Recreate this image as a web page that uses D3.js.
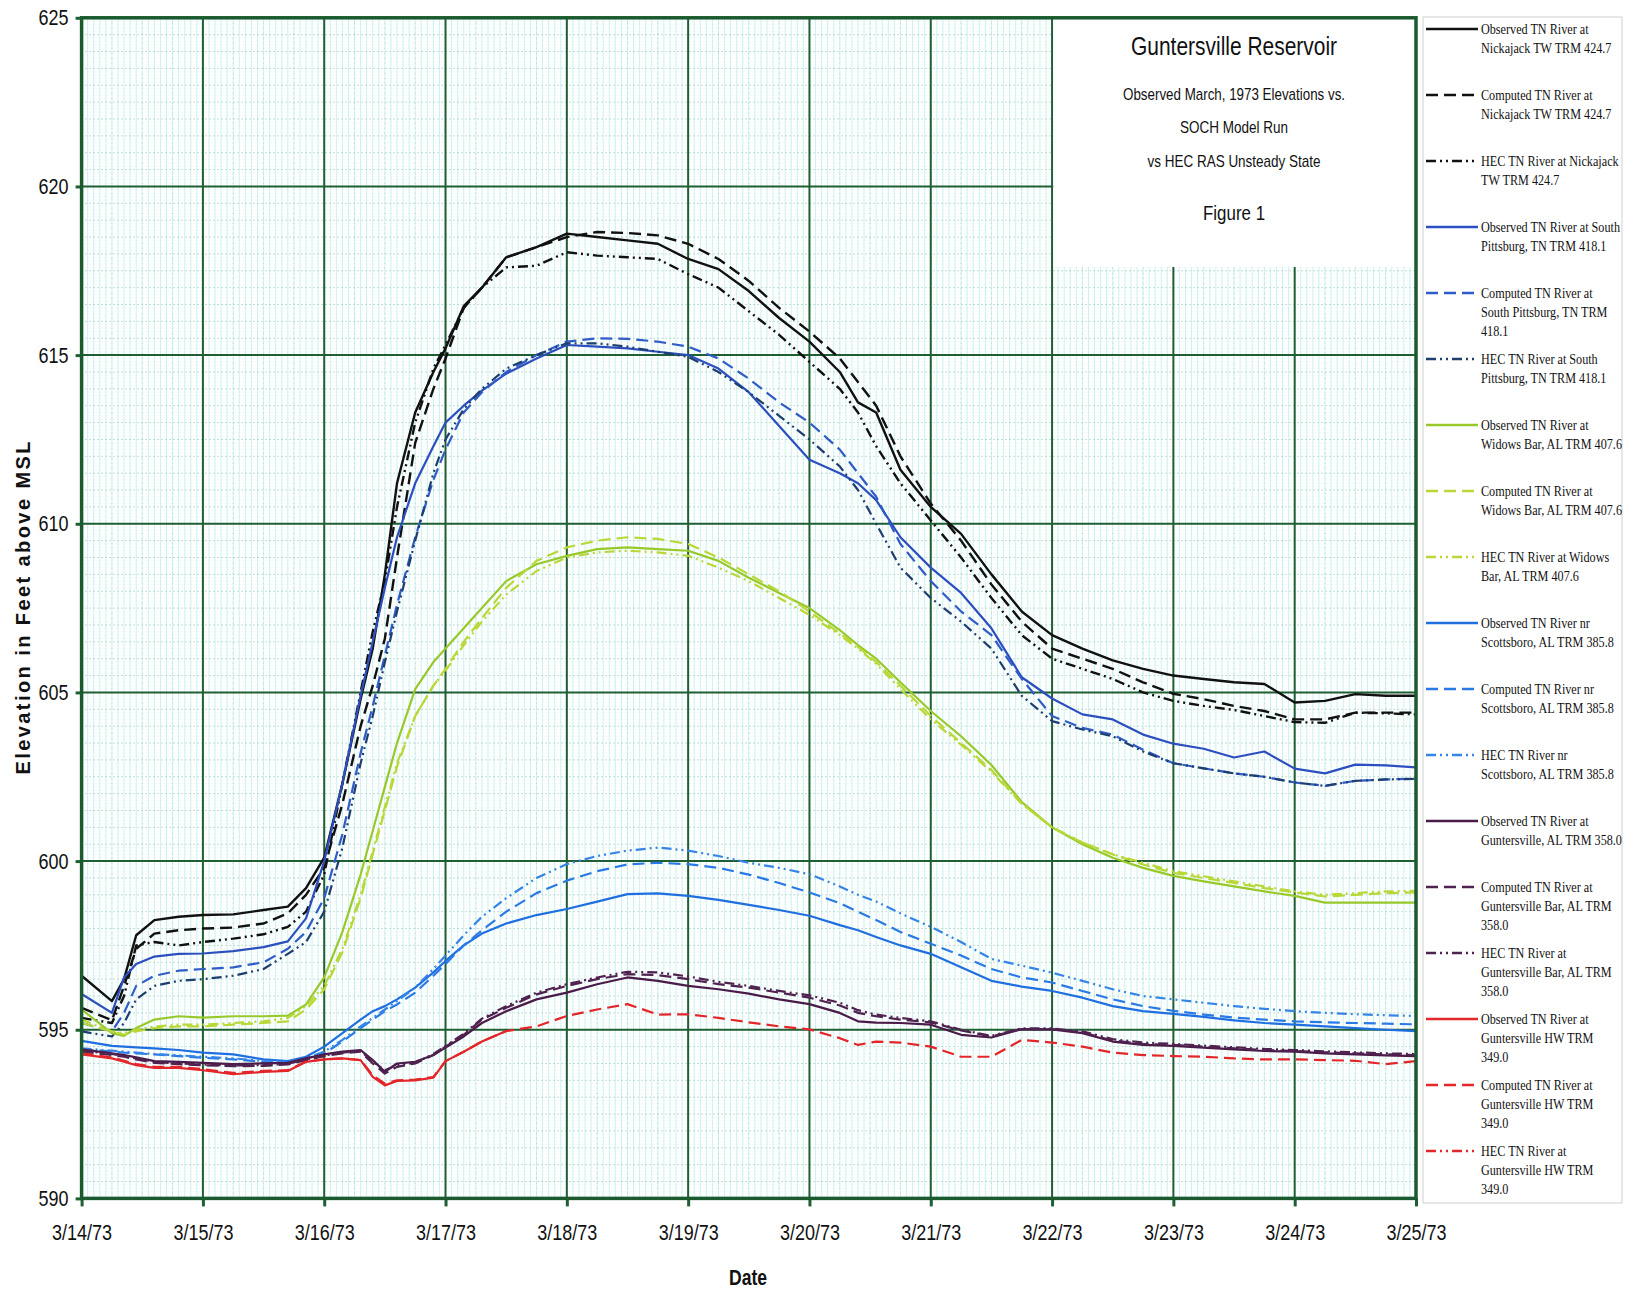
<!DOCTYPE html>
<html>
<head>
<meta charset="utf-8">
<script src="https://cdn.jsdelivr.net/npm/d3@7"></script>
<style>
  body { margin: 0; background: #fff; }
  svg text { font-family: "Liberation Sans Narrow", "Arial Narrow", "Liberation Sans", Arial, sans-serif; fill: #111; }
  .leg text { font-family: "Liberation Serif", "Times New Roman", serif; font-size: 14.5px; }
</style>
</head>
<body>
<svg id="svg" width="1641" height="1290"></svg>
<script>
// time in days after 3/14/73 00:00
const days = [0,0.25,0.35,0.45,0.6,0.8,1,1.25,1.5,1.7,1.85,2,2.15,2.3,2.4,2.5,2.6,2.75,2.9,3,3.15,3.3,3.5,3.75,4,4.25,4.5,4.75,5,5.25,5.5,5.75,6,6.25,6.4,6.55,6.75,7,7.25,7.5,7.75,8,8.25,8.5,8.75,9,9.25,9.5,9.75,10,10.25,10.5,10.75,11];

const dateLabels = ["3/14/73","3/15/73","3/16/73","3/17/73","3/18/73","3/19/73","3/20/73","3/21/73","3/22/73","3/23/73","3/24/73","3/25/73"];
const elevTicks = [590,595,600,605,610,615,620,625];

const obsNickajack = [596.6,595.85,596.5,597.8,598.25,598.35, 598.4,598.42,598.55,598.65,599.2, 600.1,602.3,604.8,606.3,608.5,611.2,613.3,614.5, 615.2,616.45,617.0,617.9,618.2, 618.6,618.5,618.4,618.3, 617.85,617.55,616.9,616.1, 615.4,614.5,613.6,613.3,611.6, 610.5,609.7,608.5,607.4, 606.7,606.3,605.95,605.7, 605.5,605.4,605.3,605.25, 604.7,604.75,604.95,604.9, 604.9];
const compNickajack = [595.65,595.28,596.3,597.4,597.85,597.95, 598.0,598.03,598.15,598.45,599.0, 599.8,601.7,604.0,605.2,606.6,609.0,612.4,614.0, 614.9,616.4,617.0,617.9,618.2, 618.5,618.65,618.62,618.55, 618.3,617.85,617.2,616.4, 615.7,614.9,614.2,613.5,612.0, 610.6,609.5,608.2,607.1, 606.3,606.0,605.7,605.3, 604.96,604.8,604.6,604.45, 604.2,604.2,604.4,604.4, 604.4];
const hecNickajack = [595.35,595.2,596.0,597.5,597.6,597.5, 597.6,597.7,597.83,598.05,598.5, 599.6,602.3,605.0,606.8,608.3,610.5,613.0,614.6, 615.3,616.4,617.0,617.6,617.65, 618.05,617.95,617.9,617.85, 617.4,617.0,616.3,615.6, 614.8,614.0,613.3,612.3,611.2, 610.1,609.0,607.8,606.7, 606.0,605.7,605.4,605.0, 604.75,604.6,604.48,604.3, 604.12,604.1,604.4,604.38, 604.35];

const obsSPitt = [596.06,595.5,596.55,596.95,597.17,597.25, 597.26,597.33,597.45,597.62,598.3, 600.0,602.3,604.9,606.5,608.1,609.6,611.2,612.3, 613.0,613.5,613.95,614.45,614.9, 615.3,615.25,615.2,615.1, 615.0,614.6,613.9,612.9, 611.9,611.5,611.2,610.7,609.6, 608.7,607.95,606.9,605.45, 604.82,604.35,604.2,603.75, 603.48,603.33,603.07,603.25, 602.74,602.6,602.86,602.84, 602.78];
const compSPitt = [595.2,594.95,595.5,596.3,596.6,596.75, 596.8,596.85,597.0,597.4,597.9, 598.9,600.8,603.2,604.6,606.1,607.6,609.6,611.3, 612.2,613.3,613.9,614.5,615.0, 615.4,615.5,615.48,615.4, 615.25,614.9,614.3,613.6, 613.0,612.2,611.5,610.8,609.4, 608.3,607.4,606.7,605.4, 604.3,603.95,603.75,603.3, 602.9,602.75,602.6,602.5, 602.33,602.23,602.38,602.42, 602.44];
const hecSPitt = [594.95,594.8,595.2,595.9,596.3,596.45, 596.5,596.6,596.8,597.25,597.6, 598.5,600.4,602.9,604.3,605.9,607.4,609.5,611.5, 612.5,613.4,614.0,614.6,615.0, 615.35,615.35,615.25,615.1, 614.95,614.5,613.9,613.2, 612.5,611.7,611.0,610.0,608.7, 607.8,607.1,606.3,604.9, 604.15,603.9,603.7,603.25, 602.9,602.75,602.6,602.5, 602.33,602.23,602.38,602.42, 602.44];

const obsWidows = [595.6,594.9,594.82,595.05,595.3,595.4, 595.36,595.4,595.4,595.42,595.75, 596.55,597.9,599.6,600.9,602.2,603.5,605.1,605.9, 606.3,606.9,607.5,608.3,608.8, 609.05,609.25,609.3,609.25, 609.2,608.9,608.4,607.95, 607.5,606.85,606.4,606.0,605.3, 604.45,603.7,602.85,601.75, 601.0,600.5,600.1,599.8, 599.56,599.4,599.25,599.1, 598.97,598.77,598.77,598.77, 598.77];
const compWidows = [595.2,594.95,594.85,594.95,595.05,595.1, 595.1,595.15,595.2,595.25,595.6, 596.2,597.3,598.9,600.2,601.5,602.8,604.3,605.2, 605.7,606.5,607.2,608.1,608.9, 609.3,609.5,609.6,609.55, 609.4,609.0,608.5,608.0, 607.4,606.75,606.35,605.9,605.2, 604.3,603.5,602.7,601.7, 601.0,600.55,600.2,599.9, 599.65,599.5,599.35,599.2, 599.07,598.95,599.0,599.05, 599.07];
const hecWidows = [595.3,594.95,594.9,595.0,595.1,595.15, 595.15,595.2,595.25,595.35,595.7, 596.3,597.4,599.0,600.3,601.6,602.9,604.3,605.2, 605.65,606.4,607.1,607.9,608.6, 609.0,609.15,609.2,609.15, 609.05,608.7,608.3,607.8, 607.3,606.7,606.3,605.85,605.1, 604.2,603.45,602.65,601.7, 601.0,600.55,600.2,599.95, 599.7,599.55,599.4,599.25, 599.1,599.0,599.05,599.1, 599.12];

const obsScotts = [594.67,594.52,594.5,594.48,594.45,594.4, 594.32,594.27,594.12,594.07,594.2, 594.5,594.9,595.3,595.55,595.7,595.9,596.25,596.7, 597.04,597.5,597.85,598.15,598.4, 598.58,598.8,599.02,599.04, 598.97,598.85,598.7,598.55, 598.38,598.1,597.95,597.75,597.5, 597.25,596.85,596.45,596.28, 596.15,595.95,595.7,595.55, 595.47,595.38,595.28,595.2, 595.15,595.1,595.05,595.0, 594.96];
const compScotts = [594.42,594.35,594.32,594.3,594.27,594.22, 594.17,594.12,594.05,594.02,594.12, 594.3,594.65,595.05,595.3,595.55,595.75,596.1,596.6, 596.95,597.5,597.95,598.5,599.05, 599.42,599.7,599.9,599.95, 599.91,599.8,599.6,599.35, 599.07,598.75,598.5,598.25,597.9, 597.55,597.2,596.8,596.55, 596.4,596.15,595.9,595.7, 595.56,595.45,595.36,595.3, 595.25,595.22,595.2,595.18, 595.16];
const hecScotts = [594.45,594.38,594.35,594.32,594.28,594.24, 594.2,594.15,594.08,594.05,594.15, 594.35,594.7,595.1,595.35,595.6,595.85,596.25,596.8, 597.2,597.8,598.35,598.9,599.5, 599.91,600.15,600.31,600.4, 600.31,600.15,599.95,599.8, 599.61,599.25,599.0,598.8,598.45, 598.05,597.6,597.1,596.9, 596.69,596.45,596.2,596.0, 595.9,595.8,595.7,595.62, 595.55,595.5,595.46,595.43, 595.41];

const obsGunt = [594.42,594.3,594.25,594.18,594.07,594.05, 594.02,593.98,594.0,594.02,594.15, 594.27,594.35,594.4,594.1,593.75,594.0,594.05,594.25, 594.47,594.8,595.2,595.55,595.9, 596.1,596.35,596.55,596.45, 596.3,596.2,596.07,595.9, 595.76,595.5,595.25,595.21,595.2, 595.15,594.85,594.77,595.02, 595.01,594.9,594.65,594.55, 594.52,594.47,594.42,594.37, 594.35,594.3,594.27,594.24, 594.22];
const compGunt = [594.35,594.25,594.2,594.12,594.02,593.98, 593.95,593.92,593.93,593.97,594.1, 594.22,594.3,594.35,594.0,593.7,593.9,594.0,594.25, 594.5,594.85,595.3,595.65,596.05, 596.3,596.5,596.65,596.62, 596.5,596.35,596.25,596.1, 595.95,595.72,595.5,595.4,595.3, 595.22,594.98,594.8,595.02, 595.02,594.92,594.68,594.58, 594.55,594.5,594.45,594.4, 594.37,594.33,594.3,594.27, 594.25];
const hecGunt = [594.38,594.28,594.22,594.15,594.05,594.0, 593.97,593.94,593.95,593.99,594.12, 594.24,594.32,594.38,594.05,593.8,593.95,594.02,594.28, 594.52,594.88,595.33,595.7,596.1, 596.35,596.55,596.72,596.7, 596.58,596.42,596.3,596.15, 596.02,595.8,595.58,595.45,595.35, 595.25,595.0,594.82,595.04, 595.04,594.95,594.72,594.62, 594.58,594.53,594.48,594.43, 594.4,594.36,594.33,594.3, 594.28];

// observed headwater record stops at about 3/17 noon
const obsGuntHW = [594.27,594.15,594.05,593.95,593.87,593.87, 593.8,593.68,593.75,593.78,594.05, 594.12,594.15,594.1,593.6,593.35,593.48,593.5,593.58, 594.07,594.35,594.65,594.96];
const compGuntHW = [594.3,594.18,594.08,593.98,593.9,593.9, 593.83,593.72,593.78,593.8,594.05, 594.12,594.15,594.1,593.65,593.4,593.5,593.52,593.6, 594.07,594.35,594.65,594.96,595.1, 595.41,595.6,595.76,595.45, 595.46,595.35,595.22,595.1, 595.01,594.75,594.55,594.65,594.62, 594.5,594.2,594.2,594.7, 594.62,594.5,594.32,594.25, 594.22,594.2,594.15,594.12, 594.12,594.1,594.08,593.98, 594.07];
const hecGuntHW = [];

const DASH = "12,6";
const DASHDOT = "10,4,2,4,2,4";

const series = [
  { label: ["Observed TN River at", "Nickajack TW TRM 424.7"], values: obsNickajack, color: "#111111", dash: null },
  { label: ["Computed TN River at", "Nickajack TW TRM 424.7"], values: compNickajack, color: "#111111", dash: DASH },
  { label: ["HEC TN River at Nickajack", "TW TRM 424.7"], values: hecNickajack, color: "#111111", dash: DASHDOT },
  { label: ["Observed TN River at South", "Pittsburg, TN TRM 418.1"], values: obsSPitt, color: "#2c4fbf", dash: null },
  { label: ["Computed TN River at", "South Pittsburg, TN TRM", "418.1"], values: compSPitt, color: "#2f5cc6", dash: DASH },
  { label: ["HEC TN River at South", "Pittsburg, TN TRM 418.1"], values: hecSPitt, color: "#1d3e6e", dash: DASHDOT },
  { label: ["Observed TN River at", "Widows Bar, AL TRM 407.6"], values: obsWidows, color: "#97c92b", dash: null },
  { label: ["Computed TN River at", "Widows Bar, AL TRM 407.6"], values: compWidows, color: "#b9d838", dash: DASH },
  { label: ["HEC TN River at Widows", "Bar, AL TRM 407.6"], values: hecWidows, color: "#b9d838", dash: DASHDOT },
  { label: ["Observed TN River nr", "Scottsboro, AL TRM 385.8"], values: obsScotts, color: "#1f6fe0", dash: null },
  { label: ["Computed TN River nr", "Scottsboro, AL TRM 385.8"], values: compScotts, color: "#2a7ae6", dash: DASH },
  { label: ["HEC TN River nr", "Scottsboro, AL TRM 385.8"], values: hecScotts, color: "#3585e8", dash: DASHDOT },
  { label: ["Observed TN River at", "Guntersville, AL TRM 358.0"], values: obsGunt, color: "#4a1a48", dash: null },
  { label: ["Computed TN River at", "Guntersville Bar, AL TRM", "358.0"], values: compGunt, color: "#4f2250", dash: DASH },
  { label: ["HEC TN River at", "Guntersville Bar, AL TRM", "358.0"], values: hecGunt, color: "#4f2250", dash: DASHDOT },
  { label: ["Observed TN River at", "Guntersville HW TRM", "349.0"], values: obsGuntHW, color: "#e3262a", dash: null },
  { label: ["Computed TN River at", "Guntersville HW TRM", "349.0"], values: compGuntHW, color: "#e3262a", dash: DASH },
  { label: ["HEC TN River at", "Guntersville HW TRM", "349.0"], values: hecGuntHW, color: "#e3262a", dash: DASHDOT }
];

const svg = d3.select("#svg");
const pLeft = 81.6, pRight = 1416, pTop = 17.8, pBottom = 1198.4;

const x = d3.scaleLinear().domain([0, 11]).range([pLeft, pRight]);
const y = d3.scaleLinear().domain([590, 625]).range([pBottom, pTop]);

// graph paper background
const grid = svg.append("g");
grid.selectAll(".hfine")
  .data(d3.range(590, 625.001, 0.1))
  .join("line")
  .attr("x1", pLeft).attr("x2", pRight)
  .attr("y1", d => y(d)).attr("y2", d => y(d))
  .attr("stroke", "#eef9f8").attr("stroke-width", 0.6);
grid.selectAll(".vfine")
  .data(d3.range(0, 11.001, 1 / 20))
  .join("line")
  .attr("x1", d => x(d)).attr("x2", d => x(d))
  .attr("y1", pTop).attr("y2", pBottom)
  .attr("stroke", "#cdf1ee").attr("stroke-width", 1);
grid.selectAll(".hdot")
  .data(d3.range(590.5, 625, 0.5))
  .join("line")
  .attr("x1", pLeft).attr("x2", pRight)
  .attr("y1", d => y(d)).attr("y2", d => y(d))
  .attr("stroke", "#94c2b4").attr("stroke-width", 1)
  .attr("stroke-dasharray", "1,3");
grid.selectAll(".vdot")
  .data(d3.range(0.25, 11, 0.25))
  .join("line")
  .attr("x1", d => x(d)).attr("x2", d => x(d))
  .attr("y1", pTop).attr("y2", pBottom)
  .attr("stroke", "#b2d8cc").attr("stroke-width", 1)
  .attr("stroke-dasharray", "1,4");

// major grid
const major = "#1e5f34";
grid.selectAll(".hmaj")
  .data(elevTicks)
  .join("line")
  .attr("x1", pLeft).attr("x2", pRight)
  .attr("y1", d => y(d)).attr("y2", d => y(d))
  .attr("stroke", major).attr("stroke-width", 2);
grid.selectAll(".vmaj")
  .data(d3.range(0, 12))
  .join("line")
  .attr("x1", d => x(d)).attr("x2", d => x(d))
  .attr("y1", pTop).attr("y2", pBottom)
  .attr("stroke", major).attr("stroke-width", 2);

// title box sits on the plot area
const boxBottom = 267;
svg.append("rect")
  .attr("x", x(8) + 1.2).attr("y", pTop)
  .attr("width", pRight - x(8) - 1.2).attr("height", boxBottom - pTop)
  .attr("fill", "#fff");

const tb = svg.append("g").attr("text-anchor", "middle");
const tcx = (x(8) + pRight) / 2;
const titleLines = [
  { t: "Guntersville Reservoir", y: 55, s: 25, w: 206 },
  { t: "Observed March, 1973 Elevations vs.", y: 100, s: 17, w: 222 },
  { t: "SOCH Model Run", y: 133, s: 17, w: 108 },
  { t: "vs HEC RAS Unsteady State", y: 167, s: 17, w: 173 },
  { t: "Figure 1", y: 220, s: 21, w: 62 }
];
tb.selectAll("text")
  .data(titleLines)
  .join("text")
  .attr("x", tcx).attr("y", d => d.y)
  .style("font-size", d => d.s + "px")
  .attr("textLength", d => d.w)
  .attr("lengthAdjust", "spacingAndGlyphs")
  .text(d => d.t);

// series
const line = d3.line()
  .x(d => x(d[0]))
  .y(d => y(d[1]))
  .curve(d3.curveLinear);

const plot = svg.append("g");
series.forEach(s => {
  if (!s.values.length) return;
  const pts = s.values.map((v, i) => [days[i], v]);
  plot.append("path")
    .datum(pts)
    .attr("d", line)
    .attr("fill", "none")
    .attr("stroke", s.color)
    .attr("stroke-width", s.color === "#111111" ? 2.4 : 2.2)
    .attr("stroke-linejoin", "round")
    .attr("stroke-dasharray", s.dash);
});

// axes
const yAxis = svg.append("g")
  .attr("transform", `translate(${pLeft},0)`)
  .call(d3.axisLeft(y).tickValues(elevTicks).tickSize(6).tickPadding(7).tickFormat(d3.format("d")));
const xAxis = svg.append("g")
  .attr("transform", `translate(0,${pBottom})`)
  .call(d3.axisBottom(x).tickValues(d3.range(0, 12)).tickSize(8).tickPadding(18).tickFormat((d, i) => dateLabels[i]));
[yAxis, xAxis].forEach(a => {
  a.select(".domain").remove();
  a.selectAll(".tick line").attr("stroke", major).attr("stroke-width", 3);
  a.selectAll(".tick text").style("font-size", "22px").attr("fill", "#111")
    .attr("lengthAdjust", "spacingAndGlyphs");
});
yAxis.selectAll(".tick text").attr("textLength", 30);
xAxis.selectAll(".tick text").attr("textLength", 60);

// plot frame
svg.append("rect")
  .attr("x", pLeft).attr("y", pTop)
  .attr("width", pRight - pLeft).attr("height", pBottom - pTop)
  .attr("fill", "none").attr("stroke", "#1b5a2f").attr("stroke-width", 3.5);

// axis titles
svg.append("text")
  .attr("x", 748).attr("y", 1285)
  .attr("text-anchor", "middle")
  .style("font-size", "22px").style("font-weight", "bold")
  .attr("textLength", 38).attr("lengthAdjust", "spacingAndGlyphs")
  .text("Date");
svg.append("text")
  .attr("transform", "translate(30,608) rotate(-90)")
  .attr("text-anchor", "middle")
  .style("font-size", "20px").style("font-weight", "bold")
  .attr("textLength", 333).attr("lengthAdjust", "spacing")
  .text("Elevation in Feet above MSL");

// legend
const legX = 1423, legY = 17, legW = 199, legH = 1186;
const leg = svg.append("g").attr("class", "leg");
leg.append("rect")
  .attr("x", legX).attr("y", legY).attr("width", legW).attr("height", legH)
  .attr("fill", "#fff").attr("stroke", "#cfcfcf").attr("stroke-width", 1);

const item = leg.selectAll(".item")
  .data(series)
  .join("g")
  .attr("transform", (d, i) => `translate(${legX},${29 + i * 66})`);
item.append("line")
  .attr("x1", 3).attr("x2", 55).attr("y1", 0).attr("y2", 0)
  .attr("stroke", d => d.color).attr("stroke-width", 2.6)
  .attr("stroke-dasharray", d => d.dash);
item.each(function (d) {
  const g = d3.select(this);
  d.label.forEach((t, j) => {
    g.append("text")
      .attr("transform", `translate(58,${5 + j * 19}) scale(0.84,1)`)
      .text(t);
  });
});
</script>
</body>
</html>
